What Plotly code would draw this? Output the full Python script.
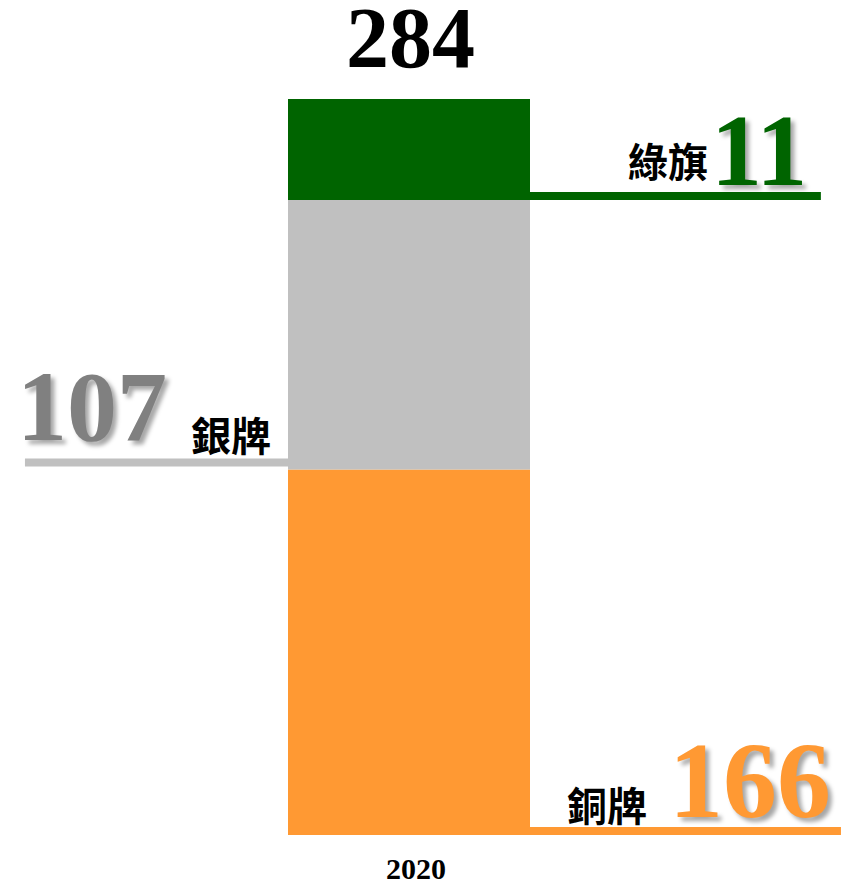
import plotly.graph_objects as go

# ---- data ----
category = ["2020"]
series_names = ["銅牌", "銀牌", "綠旗"]
series_values = [166, 107, 11]            # label values
segment_heights = [141, 104, 39]          # drawn segment heights
series_colors = ["#FF9933", "#C0C0C0", "#006400"]
label_colors = ["#FF9933", "#808080", "#006400"]
total_value = sum(series_values)

W, H = 841, 887
fig = go.Figure()

bases = []
acc = 0
for name, h, col in zip(series_names, segment_heights, series_colors):
    bases.append(acc)
    fig.add_trace(go.Bar(x=[0], y=[h], base=[acc], width=[1], marker=dict(color=col, line=dict(width=0)),
                         name=name, showlegend=False, hoverinfo="skip"))
    acc += h
top = acc

# leader lines (data-anchored, pixel thickness)
line_specs = [  # (series index, x0, x1, pixel y0, y1)
    (0, 0.5, 1.785, 0, 8),
    (1, -1.587, -0.5, 3, 11),
    (2, 0.5, 1.702, 0, 8),
]
for i, x0, x1, p0, p1 in line_specs:
    fig.add_shape(type="rect", xref="x", yref="y", x0=x0, x1=x1, ysizemode="pixel",
                  yanchor=bases[i], y0=p0, y1=p1, fillcolor=series_colors[i], line=dict(width=0))

serif = "Liberation Serif, Times New Roman, serif"
cjk = "Noto Sans CJK TC, Noto Sans CJK SC, sans-serif"
shadow = "4px 4px 4px rgba(0,0,0,0.35)"

def px(x):
    return x / W

def py(y):
    return 1 - y / H

ann = []
# total
ann.append(dict(text=f"<b>{total_value}</b>", x=px(410), y=py(38), font=dict(family=serif, size=86, color="black")))
# values
ann.append(dict(text=f"<b>{series_values[1]}</b>", x=px(92), y=py(406),
                font=dict(family=serif, size=100, color=label_colors[1], shadow=shadow)))
ann.append(dict(text=f"<b>{series_values[2]}</b>", x=px(759), y=py(150),
                font=dict(family=serif, size=102, color=label_colors[2], shadow=shadow)))
ann.append(dict(text=f"<b>{series_values[0]}</b>", x=px(750), y=py(780),
                font=dict(family=serif, size=108, color=label_colors[0], shadow=shadow)))
# names
ann.append(dict(text=series_names[1], x=px(231), y=py(434), font=dict(family=cjk, size=40, color="black", weight="bold")))
ann.append(dict(text=series_names[2], x=px(668), y=py(160), font=dict(family=cjk, size=40, color="black", weight="bold")))
ann.append(dict(text=series_names[0], x=px(607), y=py(804), font=dict(family=cjk, size=40, color="black", weight="bold")))
# category
ann.append(dict(text=f"<b>{category[0]}</b>", x=px(416), y=py(868), font=dict(family=serif, size=30, color="black")))

for a in ann:
    a.update(xref="paper", yref="paper", showarrow=False, xanchor="center", yanchor="middle")

s = top / (835 - 99)  # units per pixel
fig.update_layout(
    width=W, height=H,
    margin=dict(l=0, r=0, t=0, b=0),
    paper_bgcolor="white", plot_bgcolor="white",
    barmode="overlay",
    xaxis=dict(range=[-409 / 242, (W - 409) / 242], visible=False, fixedrange=True),
    yaxis=dict(range=[-(H - 835) * s, top + 99 * s], visible=False, fixedrange=True),
    annotations=ann,
)

fig.write_html("out.html", config={"displayModeBar": False},
               post_script="document.body.style.margin='0';document.body.style.overflow='hidden';")
